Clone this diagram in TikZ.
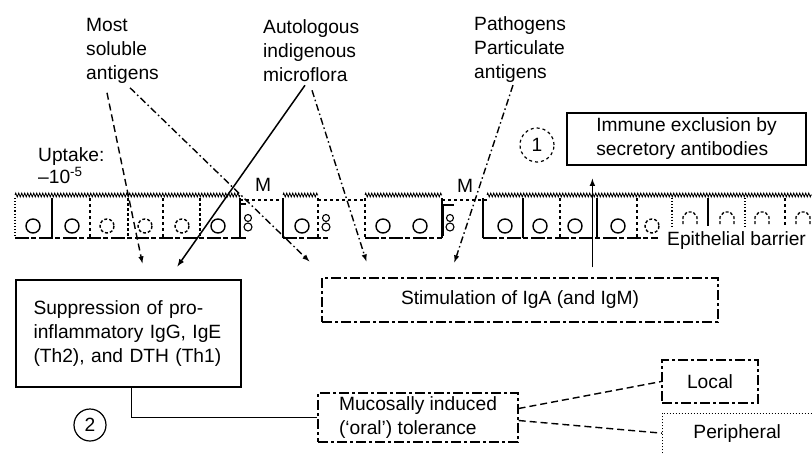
\documentclass[tikz,border=0pt]{standalone}
\usepackage{fontspec}
\setmainfont{Liberation Sans}
\usetikzlibrary{decorations.pathmorphing}

\begin{document}
\begin{tikzpicture}[x=1pt, y=-1pt, >=latex,
    font=\fontsize{19.2}{24}\selectfont,
    lbl/.style={anchor=west, align=left, inner sep=0pt},
    box/.style={draw, line width=1.2pt, inner sep=0pt},
    dashbox/.style={box, dash pattern=on 10pt off 3pt on 3pt off 3pt},
    dashline/.style={line width=1.4pt, dash pattern=on 7pt off 4pt},
    dashdotline/.style={line width=1.4pt, dash pattern=on 7pt off 3pt on 1.5pt off 3pt},
    wall/.style={line width=1.1pt},
    nucleus/.style={line width=1.4pt}]

    \useasboundingbox (0,0) rectangle (812,453);

    % Antigen labels
    \node[lbl] (mostsol) at (86,51) {Most\\soluble\\antigens};
    \node[lbl] (autol) at (263,51) {Autologous\\indigenous\\microflora};
    \node[lbl] (pathog) at (474,50) {Pathogens\\Particulate\\antigens};
    \node[lbl, font=\fontsize{19.2}{22}\selectfont] (uptake) at (38,166) {Uptake:\\--10\textsuperscript{-5}};

    % Immune exclusion
    \node[circle, draw, dashed, line width=1.2pt, minimum size=34pt, inner sep=0pt] (one) at (537,145) {1};
    \node[box, minimum width=239pt, minimum height=52pt, align=left] (excl) at (686.5,139) {Immune exclusion by\\secretory antibodies};

    % Epithelial barrier: brush border
    \foreach \a/\b in {15/240, 283/318, 365/442, 487/812}
        \draw[decorate, decoration={zigzag, segment length=3pt, amplitude=2pt}, line width=0.8pt] (\a,195) -- (\b,195);
    \foreach \a/\b in {240/283, 318/365, 442/487}
        \draw[wall, dashed] (\a,200) -- (\b,200);

    % cell bottoms
    \foreach \a/\b in {15/240, 283/330, 365/442, 483/658}
        \draw[wall, dash pattern=on 14pt off 2pt on 5pt off 3pt] (\a,238) -- (\b,238);

    % cell walls
    \foreach \x/\s in {15/dotted, 52/solid, 90/dashed, 128/densely dashed, 163/dashed, 200/densely dashed,
                      240/solid, 283/solid, 318/dashed, 365/dashed, 442/solid, 483/solid,
                      523/solid, 560/dashed, 597/solid, 637/dashed}
        \draw[wall, \s] (\x,198) -- (\x,238);
    \foreach \x/\s in {672/dotted, 708/solid, 745/dotted, 785/dashed}
        \draw[wall, \s] (\x,198) -- (\x,226);

    % nuclei
    \foreach \x/\s in {33/solid, 72/solid, 107/densely dashed, 145/densely dashed, 182/densely dashed,
                      218/solid, 302/solid, 383/solid, 420/solid, 505/solid, 540/solid,
                      575/solid, 618/solid, 652/densely dashed}
        \draw[nucleus, \s] (\x,226) circle (7);
    \foreach \x in {690, 727, 762, 803}
        \draw[nucleus, densely dashed] (\x-7,224) -- (\x-7,217) -- (\x-3,212) -- (\x+3,212) -- (\x+7,217) -- (\x+7,224);

    % M cells with lymphocytes in the pocket
    \draw[wall] (246,204) -- (240,204) -- (240,238) -- (246,238);
    \draw[wall] (454,205) -- (443,205) -- (443,236);
    \foreach \x in {248, 326, 450} {
        \draw[wall] (\x,218) circle (3.5);
        \draw[wall] (\x,227) circle (4);
    }
    \node (m1) at (263,185) {M};
    \node (m2) at (465,186) {M};
    \node[lbl] (epith) at (667,241) {Epithelial barrier};

    % Responses
    \node[box, minimum width=225pt, minimum height=107pt, text width=190pt, inner xsep=17.5pt, align=left] (supp) at (128.5,333.5)
        {Suppression of pro-\\inflammatory IgG, IgE\\(Th2), and DTH (Th1)};
    \node[dashbox, minimum width=396pt, minimum height=44pt] (stim) at (520,300) {Stimulation of IgA (and IgM)};
    \node[dashbox, minimum width=200pt, minimum height=49pt, align=left] (toler) at (418,417.5) {Mucosally induced\\(`oral') tolerance};
    \node[dashbox, minimum width=96pt, minimum height=43pt] (local) at (710,381.5) {Local};
    \node[minimum width=150pt, minimum height=40pt, inner sep=0pt, anchor=north west] (periph) at (662,413) {Peripheral};
    \draw[dotted, line width=1pt] (periph.south west) -- (periph.north west) -- (periph.north east);
    \node[circle, draw, line width=1.2pt, minimum size=32pt, inner sep=0pt] (two) at (90,425) {2};

    % Antigen routes
    \draw[->, dashline] ([xshift=21pt,yshift=-9pt]mostsol.south west) -- ([xshift=127pt,yshift=16pt]supp.north west);
    \draw[->, dashdotline] ([xshift=44pt,yshift=-4pt]mostsol.south west) -- ([xshift=-12pt,yshift=16pt]stim.north west);
    \draw[->, line width=1.5pt] ([xshift=42pt,yshift=-3pt]autol.south west) -- ([xshift=162pt,yshift=13pt]supp.north west);
    \draw[->, dashdotline] ([xshift=49pt,yshift=-8pt]autol.south west) -- ([xshift=45pt,yshift=16pt]stim.north west);
    \draw[->, dashdotline] ([xshift=39pt,yshift=-2pt]pathog.south west) -- ([xshift=133pt,yshift=15pt]stim.north west);

    % IgA back to the lumen
    \draw[->, line width=1.5pt] ([xshift=271pt,yshift=10pt]stim.north west) -- ([xshift=26pt,yshift=-13pt]excl.south west);

    % Tolerance
    \draw[line width=1.3pt] ([xshift=116pt]supp.south west) |- (toler.west);
    \draw[dashline] ([yshift=9pt]toler.east) -- (local.west);
    \draw[dashline] ([yshift=-3pt]toler.east) -- (periph.west);

\end{tikzpicture}
\end{document}
